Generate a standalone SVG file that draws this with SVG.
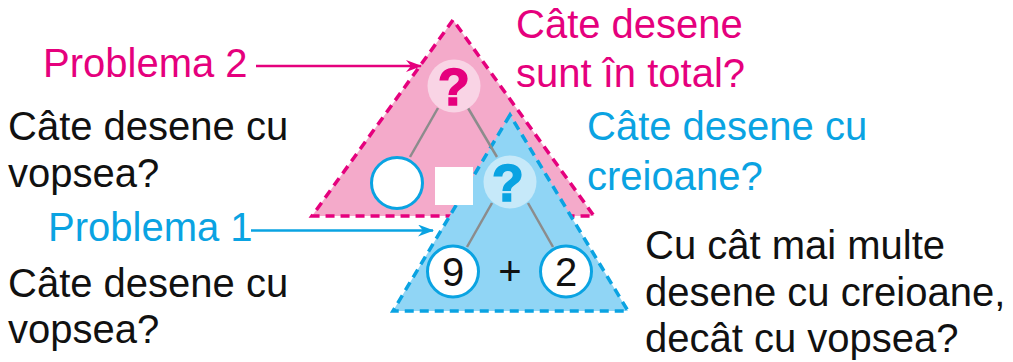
<svg xmlns="http://www.w3.org/2000/svg" width="1013" height="362" viewBox="0 0 1013 362">
  <style>
    text { font-family: "Liberation Sans", Arial, sans-serif; font-size: 40px; }
    .mag { fill: #e5007d; }
    .cyan { fill: #0aa3e2; }
    .blk { fill: #111111; }
    .qm { font-weight: bold; font-size: 52px; text-anchor: middle; stroke-width: 1.6; }
    .qm.mag { stroke: #e5007d; }
    .qm.cyan { stroke: #0aa3e2; }
    .num { text-anchor: middle; fill: #111111; }
    .tri-p { fill: #f4aaca; stroke: #e5007d; stroke-width: 3.5; stroke-dasharray: 9 6; }
    .tri-b { fill: #90d5f5; stroke: #0aa3e2; stroke-width: 3.5; stroke-dasharray: 9 6; }
    .ring { fill: #ffffff; stroke: #0aa3e2; stroke-width: 3; }
    .link { stroke: #8c8c8c; stroke-width: 2.5; fill: none; }
  </style>
  <defs>
    <marker id="arrP" viewBox="0 0 16 12" refX="15" refY="6" markerWidth="16" markerHeight="12" markerUnits="userSpaceOnUse" orient="auto">
      <path d="M0,0 L16,6 L0,12 L5,6 z" fill="#e5007d"/>
    </marker>
    <marker id="arrB" viewBox="0 0 16 12" refX="15" refY="6" markerWidth="16" markerHeight="12" markerUnits="userSpaceOnUse" orient="auto">
      <path d="M0,0 L16,6 L0,12 L5,6 z" fill="#0aa3e2"/>
    </marker>
  </defs>

  <g id="triangle-problema-2">
    <polygon class="tri-p" points="453,20 312,216 594,216"/>
  </g>
  <g id="triangle-problema-1">
    <polygon class="tri-b" points="510,115 393,311 628,311"/>
  </g>

  <g id="connectors">
    <line class="link" x1="438" y1="108" x2="410" y2="157"/>
    <line class="link" x1="468" y1="108" x2="497" y2="157"/>
    <line class="link" x1="492" y1="203" x2="467" y2="247"/>
    <line class="link" x1="528" y1="203" x2="553" y2="247"/>
    <line x1="256" y1="66" x2="421" y2="66" stroke="#e5007d" stroke-width="2.5" marker-end="url(#arrP)"/>
    <line x1="251" y1="230.5" x2="433" y2="230.5" stroke="#0aa3e2" stroke-width="2.5" marker-end="url(#arrB)"/>
  </g>

  <g id="node-total">
    <circle cx="454" cy="86" r="26.5" fill="#f9d4e5"/>
    <text class="qm mag" x="454" y="105">?</text>
  </g>
  <g id="node-vopsea">
    <circle class="ring" cx="397" cy="183" r="25.5"/>
  </g>
  <g id="node-operator">
    <rect x="435" y="167" width="38" height="38" fill="#ffffff"/>
  </g>
  <g id="node-creioane">
    <circle cx="510" cy="182" r="26.5" fill="#c6e9f9"/>
    <text class="qm cyan" x="508" y="201">?</text>
  </g>
  <g id="node-9">
    <circle class="ring" cx="453" cy="271.5" r="25.5"/>
    <text class="num" x="453" y="285.5">9</text>
  </g>
  <g id="node-plus">
    <text class="num" x="510" y="285">+</text>
  </g>
  <g id="node-2">
    <circle class="ring" cx="566" cy="271.5" r="25.5"/>
    <text class="num" x="566" y="285.5">2</text>
  </g>

  <g id="label-problema-2">
    <text class="mag" x="43" y="77">Problema 2</text>
  </g>
  <g id="label-problema-1">
    <text class="cyan" x="48" y="241">Problema 1</text>
  </g>
  <g id="question-vopsea-1">
    <text class="blk" x="8" y="140">Câte desene cu</text>
    <text class="blk" x="8" y="187">vopsea?</text>
  </g>
  <g id="question-vopsea-2">
    <text class="blk" x="8" y="297">Câte desene cu</text>
    <text class="blk" x="8" y="343">vopsea?</text>
  </g>
  <g id="question-total">
    <text class="mag" x="516" y="38">Câte desene</text>
    <text class="mag" x="516" y="87">sunt în total?</text>
  </g>
  <g id="question-creioane">
    <text class="cyan" x="587" y="140">Câte desene cu</text>
    <text class="cyan" x="587" y="190">creioane?</text>
  </g>
  <g id="question-difference">
    <text class="blk" x="645" y="259">Cu cât mai multe</text>
    <text class="blk" x="645" y="306">desene cu creioane,</text>
    <text class="blk" x="645" y="352">decât cu vopsea?</text>
  </g>
</svg>
